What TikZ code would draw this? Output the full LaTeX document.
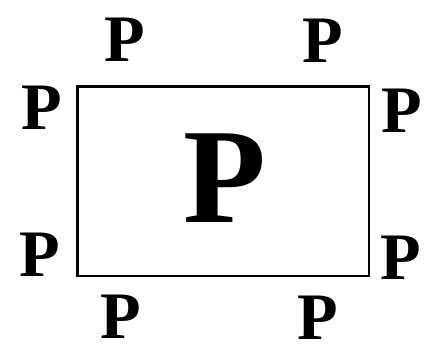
\documentclass[tikz,border=0pt]{standalone}
\usepackage{fontspec}
\setmainfont{Liberation Serif}
\usepackage{tikz}

\begin{document}
\begin{tikzpicture}[
    letter/.style={inner sep=0pt, font=\fontsize{50}{52}\selectfont\bfseries},
    bigletter/.style={inner sep=0pt, font=\fontsize{102}{104}\selectfont\bfseries},
    frame/.style={draw, line width=2.2pt, minimum width=7.72cm, minimum height=5.02cm, inner sep=0pt}
  ]
    \useasboundingbox (-5.90, -4.52) rectangle (5.58, 4.79);
    \node[frame] (box) at (0, 0) {};
    \node[bigletter] (pc) at (0.05, 0.08) {P};
    \node[letter] (ptl) at (-2.59, 3.73) {P};
    \node[letter] (ptr) at (2.65, 3.70) {P};
    \node[letter] (plt) at (-4.79, 1.93) {P};
    \node[letter] (plb) at (-4.84, -1.96) {P};
    \node[letter] (prt) at (4.74, 1.85) {P};
    \node[letter] (prb) at (4.71, -2.04) {P};
    \node[letter] (pbl) at (-2.70, -3.60) {P};
    \node[letter] (pbr) at (2.51, -3.62) {P};
  \end{tikzpicture}
\end{document}
